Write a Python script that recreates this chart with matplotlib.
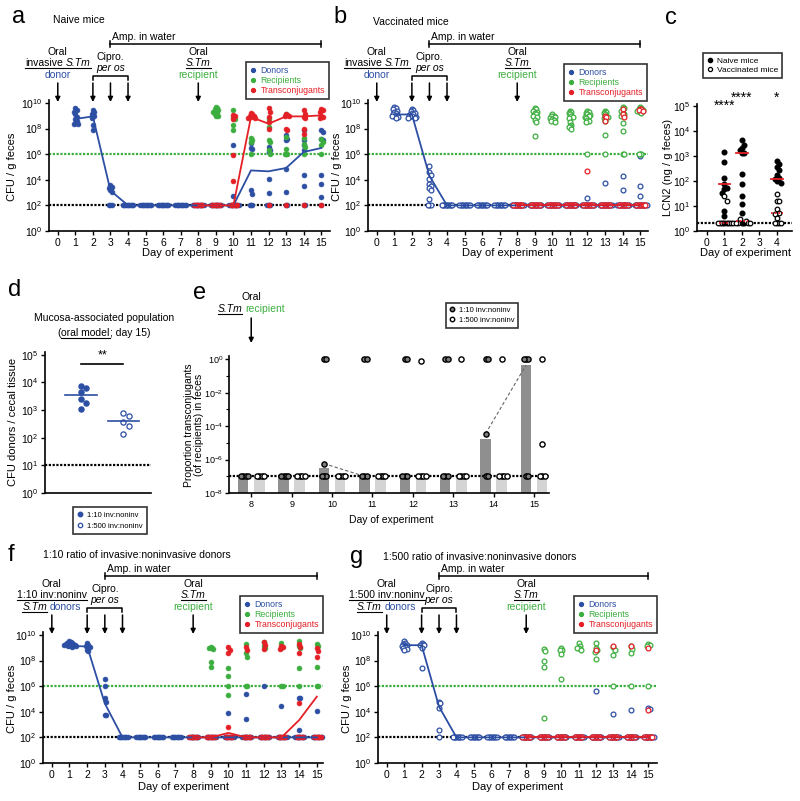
import matplotlib

matplotlib.use("Agg")
import matplotlib.pyplot as plt
import matplotlib.transforms as mtransforms
from matplotlib.lines import Line2D
from matplotlib.patches import FancyArrowPatch
from matplotlib.ticker import FixedLocator, FuncFormatter, NullFormatter, NullLocator
import numpy as np

plt.rcParams["font.family"] = ["Liberation Sans", "DejaVu Sans"]
plt.rcParams["mathtext.fontset"] = "custom"
plt.rcParams["mathtext.rm"] = "Liberation Sans"
plt.rcParams["mathtext.it"] = "Liberation Sans:italic"
plt.rcParams["mathtext.bf"] = "Liberation Sans:bold"

BLUE = "#2c4ea3"
GREEN = "#3cae3f"
RED = "#e41f26"

# ---- data (log10 values) ----
TC_DAYS = [0, 1, 2, 3, 4, 5, 6, 7, 8, 9, 10, 11, 12, 13, 14, 15]
MED_DAYS = [1, 2, 3, 4, 5, 6, 7, 8, 9, 10, 11, 12, 13, 14, 15]
TRANS_DAYS = [8, 9, 10, 11, 12, 13, 14, 15]
LOD = 2.0

# a: naive mice
A_DONORS = {1: [9.6, 9.45, 9.3, 9.1, 8.9, 8.75, 8.6, 8.4, 8.35, 8.35],
            2: [9.45, 9.3, 9.15, 9.0, 8.95, 8.8, 8.3, 7.9],
            3: [3.6, 3.45, 3.35, 3.2, 3.05],
            10: [6.75, 2.7],
            11: [6.9, 6.5, 6.4, 3.17, 2.9],
            12: [6.56, 6.35, 6.2, 4.08, 2.96],
            13: [7.47, 7.2, 7.1, 4.86, 3.04],
            14: [7.86, 7.08, 6.69, 6.3, 4.4, 3.5],
            15: [7.86, 7.73, 7.2, 7.08, 4.34, 3.7, 2.65]}
A_DONORS_LOD = {3: 3, 4: 9, 5: 9, 6: 9, 7: 9, 8: 9, 9: 9, 10: 8, 11: 3, 12: 3, 13: 2, 14: 2, 15: 1}
A_RECIP = {9: [9.7, 9.6, 9.5, 9.45, 9.35, 9.3, 9.2, 9.1, 9.0, 8.95],
           10: [9.42, 8.9, 8.77, 8.25, 7.86],
           11: [7.26, 7.13, 6.95, 6.0],
           12: [8.77, 8.1, 7.08, 6.95, 6.3, 6.0],
           13: [9.16, 7.34, 6.42, 6.0, 6.0, 6.0],
           14: [7.26, 6.82, 6.56, 6.0],
           15: [7.2, 6.95, 6.7, 6.0]}
A_RECIP_LOD = {}
A_TRANS = {10: [9.08, 8.95, 8.72, 5.96, 3.87],
           11: [9.24, 9.1, 9.0, 8.95, 8.9, 8.85, 8.82],
           12: [9.6, 9.3, 8.9, 8.5, 8.0],
           13: [9.16, 9.05, 9.0, 8.95, 8.0, 7.86],
           14: [9.42, 9.16, 8.9, 8.85, 8.0, 7.6],
           15: [9.55, 9.42, 9.3, 8.95, 8.9, 8.8]}
A_TRANS_LOD = {8: 7, 9: 7, 10: 6, 12: 1, 13: 1, 14: 1, 15: 1}
A_DONOR_MED = [8.75, 8.95, 3.15, 2, 2, 2, 2, 2, 2, 2, 4.73, 4.66, 4.92, 6.17, 6.48]
A_TRANS_MED = [2, 2, 2, 8.9, 8.38, 8.95, 8.95, 9.03]

# b: vaccinated mice
B_DONORS = {1: [9.7, 9.6, 9.5, 9.4, 9.3, 9.2, 9.1, 9.05, 9.0, 8.95, 8.9, 8.8],
            2: [9.55, 9.45, 9.35, 9.25, 9.2, 9.1, 9.05, 9.0, 8.95, 8.9, 8.85, 8.8],
            3: [5.05, 4.58, 4.4, 4.06, 3.66, 3.53, 3.35, 3.19, 2.49],
            12: [2.57], 13: [3.75], 14: [4.27, 3.17], 15: [5.83, 3.5, 2.7]}
B_DONORS_LOD = {3: 3, 4: 9, 5: 9, 6: 9, 7: 9, 8: 10, 9: 10, 10: 10, 11: 10,
                12: 10, 13: 10, 14: 10, 15: 10}
B_RECIP = {9: [9.6, 9.5, 9.4, 9.3, 9.2, 9.1, 9.0, 8.9, 8.7, 8.5, 7.4],
           10: [9.1, 9.0, 8.95, 8.9, 8.8, 8.75, 8.7, 8.6, 8.55],
           11: [9.4, 9.3, 9.2, 9.1, 9.0, 8.9, 8.8, 8.5, 8.3, 8.2, 8.1, 8.0],
           12: [9.4, 9.3, 9.2, 9.1, 9.05, 9.0, 8.9, 8.8, 8.7, 8.6, 8.5, 6.0],
           13: [9.4, 9.3, 9.2, 9.1, 9.0, 8.9, 8.8, 8.6, 7.5, 6.0],
           14: [9.7, 9.6, 9.4, 9.2, 9.1, 9.0, 8.4, 7.8, 6.0, 6.0],
           15: [9.7, 9.6, 9.5, 9.45, 9.4, 9.3, 9.2, 6.0, 6.0, 6.0]}
B_RECIP_LOD = {}
B_TRANS = {12: [4.66], 13: [9.0, 8.9, 8.6], 14: [9.5, 9.16, 8.9], 15: [9.55, 9.5, 9.45, 9.4]}
B_TRANS_LOD = {8: 8, 9: 8, 10: 8, 11: 8, 12: 8, 13: 8, 14: 8, 15: 8}
B_DONOR_MED = [9.1, 9.1, 4.3, 2, 2, 2, 2, 2, 2, 2, 2, 2, 2, 2, 2]
B_TRANS_MED = [2, 2, 2, 2, 2, 2, 2, 2]

# c: lipocalin-2
C_DAYS = [1, 2, 4]
C_NAIVE = {1: [3.16, 2.76, 2.1, 1.89, 1.73, 1.67, 1.53, 0.8, 0.6, 0.3, 0.3, 0.3],
           2: [3.63, 3.44, 3.33, 3.24, 3.13, 3.1, 2.27, 1.89, 1.4, 1.07, 0.71, 0.3, 0.3],
           4: [2.8, 2.67, 2.56, 2.43, 2.24, 2.13, 2.07, 2.0, 1.93]}
C_VACC = {1: [1.4, 1.2, 0.3, 0.3, 0.3, 0.3, 0.3],
          2: [0.47, 0.4, 0.3, 0.3, 0.3, 0.3],
          4: [1.49, 1.2, 1.2, 0.87, 0.73, 0.67, 0.5, 0.3, 0.3, 0.3, 0.3]}
C_NAIVE_MED = [1.89, 3.1, 2.07]
C_VACC_MED = [0.3, 0.4, 0.73]
C_STARS = ["****", "****", "*"]
C_LOD = 0.3

# d: mucosa-associated donors
D_LABELS = ["1:10 inv:noninv", "1:500 inv:noninv"]
D_110 = [3.88, 3.78, 3.65, 3.4, 3.24, 3.03]
D_1500 = [2.89, 2.79, 2.57, 2.44, 2.13]
D_MED = [3.55, 2.59]

# e: proportion transconjugants
E_DAYS = [8, 9, 10, 11, 12, 13, 14, 15]
E_110 = {10: [0.0, 0.0, -6.24], 11: [0.0, 0.0], 12: [0.0, 0.0], 13: [0.0, 0.0],
         14: [0.0, 0.0, -4.45], 15: [0.0, 0.0, 0.0]}
E_110_LOD = {8: 4, 9: 4, 10: 3, 11: 3, 12: 3, 13: 3, 14: 2, 15: 2}
E_1500 = {12: [-0.1], 13: [0.0], 14: [0.0], 15: [0.0, -5.06]}
E_1500_LOD = {8: 4, 9: 4, 10: 4, 11: 4, 12: 4, 13: 4, 14: 4, 15: 3}
E_BAR_110 = [-7, -7, -6.5, -7, -7, -7, -4.75, -0.35]
E_BAR_1500 = [-7, -7, -7, -7, -7, -7, -7, -7]
E_TRACK_DAYS = [(10, 11), (14, 15)]
E_TRACK_VALS = [(-6.24, -7.0), (-4.45, -0.35)]
E_LOD = -7.0

# f: 1:10 ratio
F_DONORS = {1: [9.5, 9.45, 9.4, 9.4, 9.35, 9.3, 9.3, 9.25, 9.2, 9.2, 9.15, 9.1, 9.1, 9.05],
            2: [9.35, 9.25, 9.1, 9.05, 8.8, 8.75],
            3: [6.53, 6.0, 5.04, 4.78, 3.73, 3.73],
            10: [3.93], 11: [5.39, 3.4], 12: [6.0], 13: [4.45], 14: [5.1, 5.1, 2.57], 15: [4.05]}
F_DONORS_LOD = {4: 8, 5: 8, 6: 8, 7: 8, 8: 8, 9: 8, 10: 8, 11: 8, 12: 8, 13: 8, 14: 8, 15: 8}
F_RECIP = {9: [9.08, 9.0, 8.95, 8.9, 7.86, 7.47],
           10: [7.44, 6.82, 6.0, 5.3],
           11: [9.27, 8.56, 8.3, 6.0, 6.0],
           12: [9.47, 9.1, 8.95],
           13: [9.4, 9.0, 6.0, 6.0],
           14: [9.55, 9.1, 9.0, 7.44, 6.0],
           15: [9.27, 9.1, 7.52, 6.0, 6.0]}
F_RECIP_LOD = {}
F_TRANS = {10: [9.08, 8.82, 8.56, 2.78], 11: [9.08, 8.82], 12: [9.42, 9.2, 8.9],
           13: [9.16, 9.08, 8.9], 14: [9.29, 9.08, 8.6, 4.7], 15: [8.95, 8.74, 8.25]}
F_TRANS_LOD = {8: 7, 9: 7, 10: 6, 11: 6, 12: 6, 13: 6, 14: 6, 15: 6}
F_DONOR_MED = [9.15, 9.1, 4.65, 2, 2, 2, 2, 2, 2, 2, 2, 2, 2, 2, 2]
F_TRANS_MED = [2, 2, 2.35, 2, 2, 2, 3.35, 5.18]

# g: 1:500 ratio
G_DONORS = {1: [9.5, 9.4, 9.3, 9.25, 9.2, 9.15, 9.1, 9.0, 8.9, 8.8],
            2: [9.4, 9.3, 9.2, 9.2, 8.96, 7.39],
            3: [4.78, 4.7, 4.26, 2.56],
            12: [5.61], 13: [3.81], 14: [4.13], 15: [4.31, 4.2]}
G_DONORS_LOD = {3: 1, 4: 8, 5: 8, 6: 8, 7: 8, 8: 8, 9: 8, 10: 8, 11: 8, 12: 8, 13: 8, 14: 8, 15: 8}
G_RECIP = {9: [8.9, 8.75, 7.96, 7.52, 3.52],
           10: [8.96, 8.85, 8.8, 8.5, 6.53],
           11: [9.4, 9.14, 9.0, 8.96, 8.85],
           12: [9.35, 8.96, 8.83, 8.7, 8.1],
           13: [9.09, 8.85, 8.43, 6.0],
           14: [9.14, 8.88, 8.62, 6.0],
           15: [9.3, 9.2, 9.15, 6.0]}
G_RECIP_LOD = {}
G_TRANS = {12: [8.83], 13: [9.16], 14: [9.14], 15: [9.0, 4.13]}
G_TRANS_LOD = {8: 7, 9: 7, 10: 7, 11: 7, 12: 7, 13: 7, 14: 7, 15: 7}
G_DONOR_MED = [9.2, 9.2, 4.4, 2, 2, 2, 2, 2, 2, 2, 2, 2, 2, 2, 2]
G_TRANS_MED = [2, 2, 2, 2, 2, 2, 2, 2]

TC_LEGEND = ["Donors", "Recipients", "Transconjugants"]

# ---- figure ----
W, H = 800, 801
fig = plt.figure(figsize=(W / 100, H / 100), dpi=100)
TOP = mtransforms.Affine2D().scale(1 / W, -1 / H).translate(0, 1) + fig.transFigure
RENDERER = fig.canvas.get_renderer()


def px_axes(l, t, r, b):
    return fig.add_axes([l / W, 1 - b / H, (r - l) / W, (b - t) / H])


def style(ax, size=7.5):
    for s in ("top", "right"):
        ax.spines[s].set_visible(False)
    for s in ("left", "bottom"):
        ax.spines[s].set_linewidth(1.2)
    ax.tick_params(direction="out", length=3, width=1, labelsize=size, pad=2)


def log_ticks(ax, lo, hi, step=1, minor=False):
    ax.set_yscale("log")
    ax.yaxis.set_major_locator(FixedLocator([10.0 ** k for k in range(lo, hi + 1, step)]))
    ax.yaxis.set_major_formatter(FuncFormatter(lambda v, p: r"$10^{%d}$" % round(np.log10(v))))
    ax.yaxis.set_minor_formatter(NullFormatter())
    if minor:
        ax.yaxis.set_minor_locator(FixedLocator([10.0 ** k for k in range(lo + 1, hi, 2)]))
        ax.tick_params(axis="y", which="minor", length=2, width=0.8)
    else:
        ax.yaxis.set_minor_locator(NullLocator())


def day_x(ax, d):
    return TOP.inverted().transform(ax.transData.transform((d, 1.0)))[0]


def ftext(x, y, s, size=7.5, **kw):
    kw.setdefault("ha", "center")
    kw.setdefault("va", "center")
    return fig.text(x, y, s, transform=TOP, fontsize=size, **kw)


def rich(x, y, pieces, size=7.5, gap=2.9):
    arts = []
    for s, color, fstyle, ul in pieces:
        t = fig.text(0, y, s, transform=TOP, fontsize=size, color=color,
                     style=fstyle, ha="left", va="center")
        arts.append((t, t.get_window_extent(RENDERER).width, ul))
    total = sum(w for _, w, _ in arts) + gap * (len(arts) - 1)
    cur = x - total / 2
    ul_x = []
    for t, w, ul in arts:
        t.set_x(cur)
        if ul:
            ul_x += [cur, cur + w]
        cur += w + gap
    if ul_x:
        yy = y + 0.68 * size
        fig.add_artist(Line2D([min(ul_x), max(ul_x)], [yy, yy], transform=TOP, color="k", lw=0.8))


def fline(xs, ys, **kw):
    fig.add_artist(Line2D(xs, ys, transform=TOP, **kw))


def farrow(x, y0, y1):
    fig.add_artist(FancyArrowPatch((x, y0), (x, y1), transform=TOP, arrowstyle="-|>",
                                   mutation_scale=7, lw=1.1, color="k", shrinkA=0, shrinkB=0))


def swarm(vals, step, dy):
    placed, offs = [], []
    for v in vals:
        k = 0
        found = None
        while found is None:
            cands = [0.0] if k == 0 else [k * step, -k * step]
            for o in cands:
                if all(abs(o - po) > step * 0.5 or abs(v - pv) >= dy for po, pv in placed):
                    found = o
                    break
            k += 1
        placed.append((found, v))
        offs.append(found)
    return np.array(offs)


def draw_days(ax, vals, lod_counts, lod, color, filled, step=0.075, dy=0.3, s=12):
    for day in sorted(set(vals) | set(lod_counts)):
        v = list(vals.get(day, [])) + [lod] * lod_counts.get(day, 0)
        offs = swarm(v, step, dy)
        ax.scatter(day + offs, np.power(10.0, v), s=s, facecolor=color if filled else "white",
                   edgecolor=color, linewidths=0.5 if filled else 0.9, zorder=3, clip_on=False)


def timecourse(ax, donors, recips, trans, donor_med, trans_med, filled, xlim):
    style(ax)
    ax.set_xlim(*xlim)
    ax.set_ylim(1, 10 ** 10.23)
    log_ticks(ax, 0, 10, 2)
    ax.set_xticks(TC_DAYS)
    ax.axhline(1e2, color="k", ls=(0, (1, 0.7)), lw=1.6, zorder=1)
    ax.axhline(1e6, color=GREEN, ls=(0, (1, 0.7)), lw=1.6, zorder=1)
    draw_days(ax, donors[0], donors[1], LOD, BLUE, filled)
    draw_days(ax, recips[0], recips[1], LOD, GREEN, filled)
    draw_days(ax, trans[0], trans[1], LOD, RED, filled)
    ax.plot(MED_DAYS, np.power(10.0, donor_med), color=BLUE, lw=1.3, zorder=4)
    ax.plot(TRANS_DAYS, np.power(10.0, trans_med), color=RED, lw=1.3, zorder=4)


def header(ax, T, donor_lines):
    x0, x2, x3, x4, x8, x15 = (day_x(ax, d) for d in (0, 2, 3, 4, 8, 15))
    fline([x3, x15], [T - 59, T - 59], color="k", lw=1.1)
    fline([x3, x3], [T - 62, T - 56], color="k", lw=1.1)
    fline([x15, x15], [T - 62, T - 56], color="k", lw=1.1)
    ftext(x3 + 2, T - 66, "Amp. in water", ha="left")
    rich(x0, T - 51, [("Oral", "k", "normal", False)])
    for i, pieces in enumerate(donor_lines):
        rich(x0, T - 40 + 12 * i, pieces)
    rich(x3, T - 46, [("Cipro.", "k", "normal", False)])
    rich(x3, T - 35, [("per os", "k", "italic", False)])
    fline([x2, x2, x4, x4], [T - 23, T - 27, T - 27, T - 23], color="k", lw=1.1)
    rich(x8, T - 51, [("Oral", "k", "normal", False)])
    rich(x8, T - 40, [("S.Tm", "k", "italic", True)])
    rich(x8, T - 28, [("recipient", GREEN, "normal", False)])
    for x in (x0, x2, x3, x4, x8):
        farrow(x, T - 20, T - 1)


def tc_legend(x1, y0):
    cols = [BLUE, GREEN, RED]
    hs = [Line2D([], [], ls="none", marker="o", ms=2.8, mfc=c, mec=c) for c in cols]
    leg = fig.legend(hs, TC_LEGEND, loc="upper right", bbox_to_anchor=(x1 / W, 1 - y0 / H),
                     fontsize=6.3, frameon=True, fancybox=False, edgecolor="k", borderpad=0.45,
                     handlelength=0.6, handletextpad=0.6, labelspacing=0.12, borderaxespad=0)
    leg.get_frame().set_linewidth(1.2)
    for t, c in zip(leg.get_texts(), cols):
        t.set_color(c)


def invasive_lines():
    return [[("invasive", "k", "normal", True), ("S.Tm", "k", "italic", True)],
            [("donor", BLUE, "normal", False)]]


def ratio_lines(ratio):
    return [[(ratio, "k", "normal", True)],
            [("S.Tm", "k", "italic", True), ("donors", BLUE, "normal", False)]]


# panel a
ax_a = px_axes(49, 100, 330, 231)
timecourse(ax_a, (A_DONORS, A_DONORS_LOD), (A_RECIP, A_RECIP_LOD), (A_TRANS, A_TRANS_LOD),
           A_DONOR_MED, A_TRANS_MED, True, (-0.5, 15.5))
header(ax_a, 103, invasive_lines())
tc_legend(329, 62)
ftext(12, 17, "a", size=17, ha="left")
ftext(53, 20, "Naive mice", ha="left")
ftext(12, 167, "CFU / g feces", size=8, rotation=90)
ftext(188, 253, "Day of experiment", size=8)

# panel b
ax_b = px_axes(368, 100, 648, 231)
timecourse(ax_b, (B_DONORS, B_DONORS_LOD), (B_RECIP, B_RECIP_LOD), (B_TRANS, B_TRANS_LOD),
           B_DONOR_MED, B_TRANS_MED, False, (-0.5, 15.45))
header(ax_b, 103, invasive_lines())
tc_legend(647, 64)
ftext(333, 17, "b", size=17, ha="left")
ftext(373, 22, "Vaccinated mice", ha="left")
ftext(337, 167, "CFU / g feces", size=8, rotation=90)
ftext(508, 253, "Day of experiment", size=8)

# panel c
ax_c = px_axes(697, 104, 792, 231)
style(ax_c)
ax_c.set_xlim(-0.57, 4.86)
ax_c.set_ylim(1, 10 ** 5.07)
log_ticks(ax_c, 0, 5, 1)
ax_c.set_xticks([0, 1, 2, 3, 4])
ax_c.axhline(10 ** C_LOD, color="k", ls=(0, (1, 0.7)), lw=1.6, zorder=1)
for i, d in enumerate(C_DAYS):
    vals = C_NAIVE[d] + C_VACC[d]
    offs = swarm(vals, 0.12, 0.2)
    n = len(C_NAIVE[d])
    ax_c.scatter(d + offs[:n], np.power(10.0, C_NAIVE[d]), s=11, color="k", zorder=3, clip_on=False)
    ax_c.scatter(d + offs[n:], np.power(10.0, C_VACC[d]), s=11, facecolor="white",
                 edgecolor="k", linewidths=0.9, zorder=3, clip_on=False)
    ax_c.plot([d - 0.32, d + 0.32], [10 ** C_NAIVE_MED[i]] * 2, color=RED, lw=1.3, zorder=4)
    ax_c.plot([d - 0.32, d + 0.32], [10 ** C_VACC_MED[i]] * 2, color=RED, lw=1.3,
              ls=(0, (1, 1)), zorder=4)
for d, s, y in zip(C_DAYS, C_STARS, [5.0, 5.33, 5.33]):
    ax_c.text(d, 10 ** y, s, ha="center", va="center", fontsize=10, clip_on=False)
c_leg = fig.legend([Line2D([], [], ls="none", marker="o", ms=3, mfc="k", mec="k"),
                    Line2D([], [], ls="none", marker="o", ms=3, mfc="white", mec="k", mew=0.9)],
                   ["Naive mice", "Vaccinated mice"], loc="upper right",
                   bbox_to_anchor=(782 / W, 1 - 53 / H), fontsize=6, frameon=True, fancybox=False,
                   edgecolor="k", borderpad=0.45, handlelength=0.6, handletextpad=0.6,
                   labelspacing=0.2, borderaxespad=0)
c_leg.get_frame().set_linewidth(1.2)
ftext(665, 18, "c", size=17, ha="left")
ftext(668, 167, "LCN2 (ng / g feces)", size=8, rotation=90)
ftext(745, 253, "Day of experiment", size=8)

# panel d
ax_d = px_axes(45, 352, 151, 493)
style(ax_d)
ax_d.set_xlim(-0.85, 1.65)
ax_d.set_ylim(1, 10 ** 5.1)
log_ticks(ax_d, 0, 5, 1)
ax_d.set_xticks([])
ax_d.axhline(10.0, color="k", ls=(0, (1, 0.7)), lw=1.6, zorder=1)
for i, (vals, filled) in enumerate([(D_110, True), (D_1500, False)]):
    offs = swarm(vals, 0.12, 0.2)
    ax_d.scatter(i + offs, np.power(10.0, vals), s=14, facecolor=BLUE if filled else "white",
                 edgecolor=BLUE, linewidths=0.9, zorder=3)
    ax_d.plot([i - 0.37, i + 0.37], [10 ** D_MED[i]] * 2, color=BLUE, lw=1.2, zorder=4)
ax_d.plot([0, 1], [10 ** 4.66] * 2, color="k", lw=1.2, clip_on=False)
ax_d.text(0.5, 10 ** 4.98, "**", ha="center", va="center", fontsize=9, clip_on=False)
d_leg = fig.legend([Line2D([], [], ls="none", marker="o", ms=3.2, mfc=BLUE, mec=BLUE),
                    Line2D([], [], ls="none", marker="o", ms=3.2, mfc="white", mec=BLUE, mew=0.9)],
                   D_LABELS, loc="upper right", bbox_to_anchor=(147 / W, 1 - 507 / H), fontsize=5.5,
                   frameon=True, fancybox=False, edgecolor="k", borderpad=0.6, handlelength=0.6,
                   handletextpad=0.6, labelspacing=0.45, borderaxespad=0)
d_leg.get_frame().set_linewidth(1.2)
ftext(8, 290, "d", size=17, ha="left")
ftext(104, 318, "Mucosa-associated population", size=7.5)
rich(104, 333, [("(", "k", "normal", False), ("oral model", "k", "normal", True),
                ("; day 15)", "k", "normal", False)], gap=0.3)
ftext(13, 422, "CFU donors / cecal tissue", size=8, rotation=90)

# panel e
ax_e = px_axes(229, 356, 549, 493)
style(ax_e, size=6.5)
ax_e.tick_params(axis="y", pad=1)
ax_e.set_xlim(7.45, 15.37)
ax_e.set_ylim(1e-8, 10 ** 0.2)
log_ticks(ax_e, -8, 0, 2, minor=True)
ax_e.set_xticks(E_DAYS)
ax_e.axhline(10 ** E_LOD, color="k", ls=(0, (1, 0.7)), lw=1.6, zorder=2)
ax_e.bar(np.array(E_DAYS) - 0.2, np.power(10.0, E_BAR_110) - 1e-8, bottom=1e-8, width=0.26,
         color="#8f8f8f", zorder=1)
ax_e.bar(np.array(E_DAYS) + 0.2, np.power(10.0, E_BAR_1500) - 1e-8, bottom=1e-8, width=0.26,
         color="#d4d4d4", zorder=1)
for (d0, d1), (v0, v1) in zip(E_TRACK_DAYS, E_TRACK_VALS):
    ax_e.plot([d0 - 0.2, d1 - 0.2], [10 ** v0, 10 ** v1], color="#666666", lw=0.8,
              ls=(0, (3, 2)), zorder=2)
for day in E_DAYS:
    for vals, lods, shift, face in ((E_110, E_110_LOD, -0.2, "#7d7d7d"),
                                    (E_1500, E_1500_LOD, 0.2, "white")):
        v = list(vals.get(day, [])) + [E_LOD] * lods.get(day, 0)
        offs = swarm(v, 0.06, 0.4)
        ax_e.scatter(day + shift + offs, np.power(10.0, v), s=14, facecolor=face, edgecolor="k",
                     linewidths=1.0, zorder=3, clip_on=False)
e_leg = fig.legend([Line2D([], [], ls="none", marker="o", ms=3.2, mfc="#7d7d7d", mec="k", mew=1),
                    Line2D([], [], ls="none", marker="o", ms=3.2, mfc="white", mec="k", mew=1)],
                   D_LABELS, loc="upper right", bbox_to_anchor=(518 / W, 1 - 303 / H), fontsize=5.5,
                   frameon=True, fancybox=False, edgecolor="k", borderpad=0.5, handlelength=0.6,
                   handletextpad=0.6, labelspacing=0.3, borderaxespad=0)
e_leg.get_frame().set_linewidth(1.2)
ftext(193, 293, "e", size=17, ha="left")
xe8 = day_x(ax_e, 8)
rich(xe8, 297, [("Oral", "k", "normal", False)])
rich(xe8, 309, [("S.Tm", "k", "italic", True), ("recipient", GREEN, "normal", False)])
farrow(xe8, 318, 343)
ftext(194, 425, "Proportion transconjugants\n(of recipients) in feces", size=7.5, rotation=90,
      linespacing=1.0)
ftext(391, 520, "Day of experiment", size=7.5)

# panel f
ax_f = px_axes(43, 632, 323, 763)
timecourse(ax_f, (F_DONORS, F_DONORS_LOD), (F_RECIP, F_RECIP_LOD), (F_TRANS, F_TRANS_LOD),
           F_DONOR_MED, F_TRANS_MED, True, (-0.5, 15.35))
header(ax_f, 635, ratio_lines("1:10 inv:noninv"))
tc_legend(323, 596)
ftext(8, 555, "f", size=17, ha="left")
ftext(43, 555, "1:10 ratio of invasive:noninvasive donors", ha="left")
ftext(12, 699, "CFU / g feces", size=8, rotation=90)
ftext(183, 787, "Day of experiment", size=8)

# panel g
ax_g = px_axes(378, 632, 657, 763)
timecourse(ax_g, (G_DONORS, G_DONORS_LOD), (G_RECIP, G_RECIP_LOD), (G_TRANS, G_TRANS_LOD),
           G_DONOR_MED, G_TRANS_MED, False, (-0.5, 15.5))
header(ax_g, 635, ratio_lines("1:500 inv:noninv"))
tc_legend(657, 596)
ftext(350, 557, "g", size=17, ha="left")
ftext(383, 557, "1:500 ratio of invasive:noninvasive donors", ha="left")
ftext(347, 699, "CFU / g feces", size=8, rotation=90)
ftext(517, 787, "Day of experiment", size=8)

fig.savefig("out.png", dpi=100)
